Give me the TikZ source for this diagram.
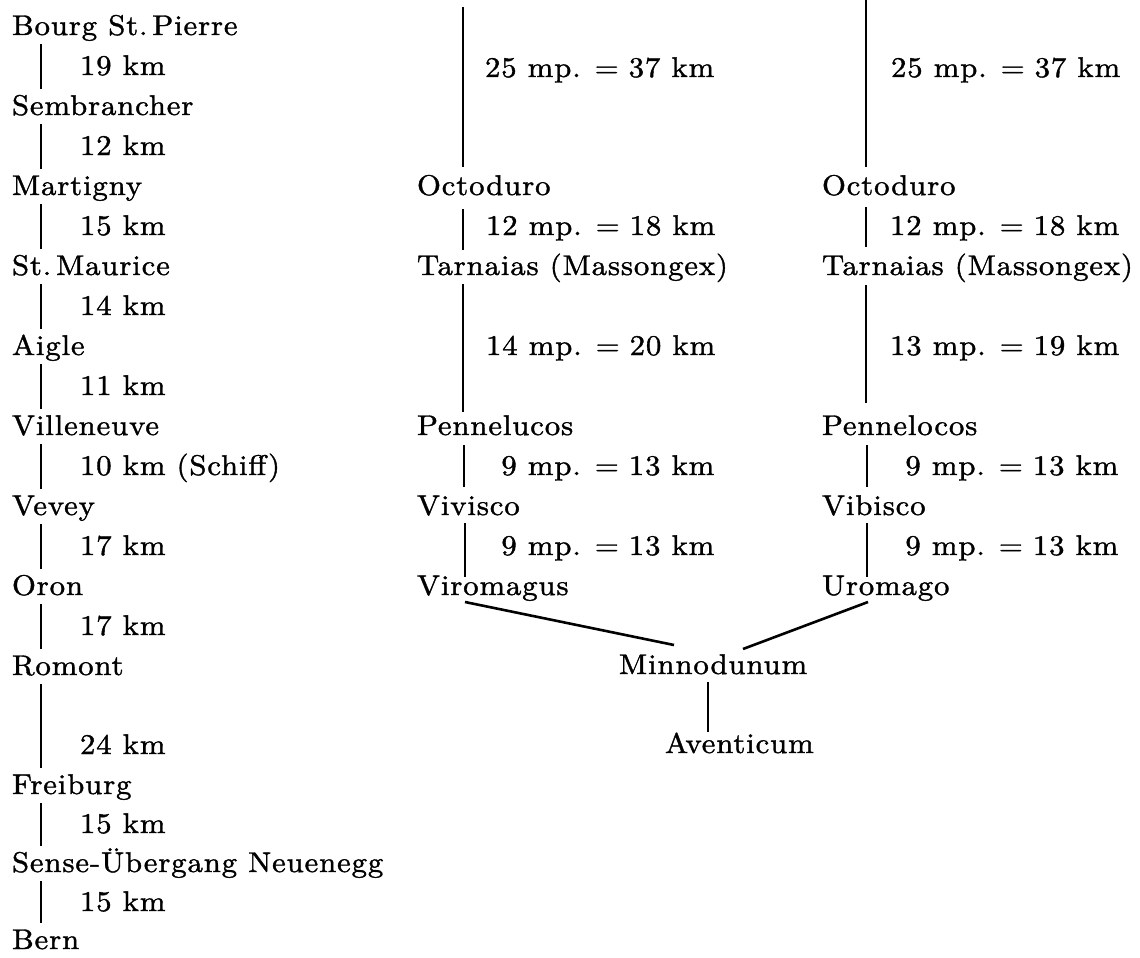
\documentclass[tikz,border=0pt]{standalone}
\usepackage{fontspec}
\setmainfont{lmroman10-regular.otf}[LetterSpace=3,FakeStretch=1.08,FakeBold=1.3]
\begin{document}
\begin{tikzpicture}[x=1pt,y=-1pt,
  place/.style={anchor=base west, inner sep=0pt, outer sep=0pt},
  road/.style={line width=2.6pt, line cap=butt},
  font=\fontsize{28.5}{30}\selectfont]
\useasboundingbox (0,0) rectangle (1140,958);
\newcommand{\eqsign}{\hspace{14pt}=\hspace{10pt}}

% ---- modern route (left column) ----
\node[place] (bsp)  at (12,35)  {Bourg St.\,Pierre};
\node[place] (d1)   at (80,75)  {19 km};
\node[place] (sem)  at (12,115) {Sembrancher};
\node[place] (d2)   at (80,155) {12 km};
\node[place] (mar)  at (12,195) {Martigny};
\node[place] (d3)   at (80,235) {15 km};
\node[place] (stm)  at (12,275) {St.\,Maurice};
\node[place] (d4)   at (80,315) {14 km};
\node[place] (aig)  at (12,355) {Aigle};
\node[place] (d5)   at (80,395) {11 km};
\node[place] (vil)  at (12,435) {Villeneuve};
\node[place] (d6)   at (80,475) {10 km (Schiff)};
\node[place] (vev)  at (12,515) {Vevey};
\node[place] (d7)   at (80,555) {17 km};
\node[place] (oro)  at (12,595) {Oron};
\node[place] (d8)   at (80,635) {17 km};
\node[place] (rom)  at (12,675) {Romont};
\node[place] (d9)   at (80,754) {24 km};
\node[place] (fre)  at (12,794) {Freiburg};
\node[place] (d10)  at (80,833) {15 km};
\node[place] (sen)  at (12,872) {Sense-Übergang Neuenegg};
\node[place] (d11)  at (80,911) {15 km};
\node[place] (ber)  at (12,949) {Bern};

\foreach \a/\b in {bsp/sem,sem/mar,mar/stm,stm/aig,aig/vil,vil/vev,vev/oro,oro/rom,rom/fre,fre/sen,sen/ber}
  \draw[road] ([shift={(29,9)}]\a.base west) -- ([shift={(29,-26)}]\b.base west);

% ---- Roman route, first version (middle column) ----
\coordinate (mtop) at (463,7);
\node[place] (m0)   at (485,77)  {25 mp.\eqsign 37 km};
\node[place] (oct1) at (417,195) {Octoduro};
\node[place] (m1)   at (486,235) {12 mp.\eqsign 18 km};
\node[place] (tar1) at (417,275) {Tarnaias (Massongex)};
\node[place] (m2)   at (486,355) {14 mp.\eqsign 20 km};
\node[place] (pen1) at (417,435) {Pennelucos};
\node[place] (m3)   at (486,475) {\hphantom{1}9 mp.\eqsign 13 km};
\node[place] (viv1) at (417,515) {Vivisco};
\node[place] (m4)   at (486,555) {\hphantom{1}9 mp.\eqsign 13 km};
\node[place] (vir1) at (417,595) {Viromagus};

\draw[road] (mtop) -- ([shift={(46,-28)}]oct1.base west);
\draw[road] ([shift={(46,14)}]oct1.base west) -- ([shift={(46,-25)}]tar1.base west);
\draw[road] ([shift={(46,9)}]tar1.base west) -- ([shift={(46,-23)}]pen1.base west);
\draw[road] ([shift={(47,10)}]pen1.base west) -- ([shift={(47,-28)}]viv1.base west);
\draw[road] ([shift={(48,8)}]viv1.base west) -- ([shift={(48,-18)}]vir1.base west);

% ---- Roman route, second version (right column) ----
\coordinate (rtop) at (866,0);
\node[place] (r0)   at (891,77)  {25 mp.\eqsign 37 km};
\node[place] (oct2) at (822,195) {Octoduro};
\node[place] (r1)   at (890,235) {12 mp.\eqsign 18 km};
\node[place] (tar2) at (822,275) {Tarnaias (Massongex)};
\node[place] (r2)   at (890,355) {13 mp.\eqsign 19 km};
\node[place] (pen2) at (822,435) {Pennelocos};
\node[place] (r3)   at (890,475) {\hphantom{1}9 mp.\eqsign 13 km};
\node[place] (vib2) at (822,515) {Vibisco};
\node[place] (r4)   at (890,555) {\hphantom{1}9 mp.\eqsign 13 km};
\node[place] (uro2) at (822,595) {Uromago};

\draw[road] (rtop) -- ([shift={(44,-28)}]oct2.base west);
\draw[road] ([shift={(44,12)}]oct2.base west) -- ([shift={(44,-28)}]tar2.base west);
\draw[road] ([shift={(44,10)}]tar2.base west) -- ([shift={(44,-32)}]pen2.base west);
\draw[road] ([shift={(45,10)}]pen2.base west) -- ([shift={(45,-28)}]vib2.base west);
\draw[road] ([shift={(45,8)}]vib2.base west) -- ([shift={(45,-18)}]uro2.base west);

% ---- junction ----
\node[place] (min) at (619,674) {Minnodunum};
\node[place] (ave) at (665,753) {Aventicum};

\draw[road] ([shift={(48,7)}]vir1.base west) -- ([shift={(55,-29)}]min.base west);
\draw[road] ([shift={(46,7)}]uro2.base west) -- ([shift={(124,-25)}]min.base west);
\draw[road] ([shift={(89,8)}]min.base west) -- ([shift={(43,-21)}]ave.base west);
\end{tikzpicture}
\end{document}
